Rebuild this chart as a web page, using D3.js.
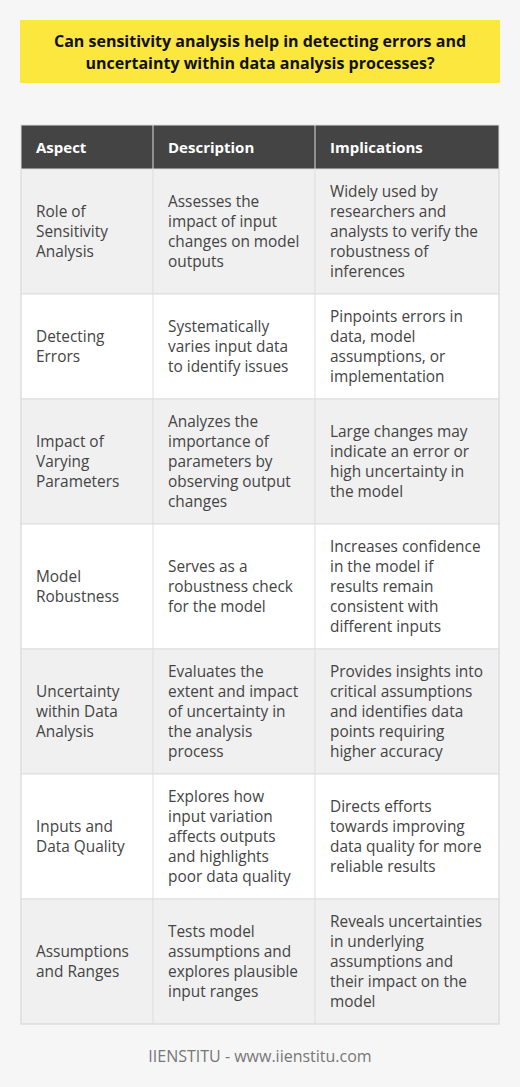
<!DOCTYPE html>
<meta charset="utf-8">
<style>
body { margin: 0; background: #f6f6f6; }
text { font-family: "Open Sans", sans-serif; }
</style>
<svg width="520" height="1087"></svg>
<script src="https://d3js.org/d3.v7.min.js"></script>
<script>
var svg = d3.select("svg");

var title = ["Can sensitivity analysis help in detecting errors and",
             "uncertainty within data analysis processes?"];
var columns = ["Aspect", "Description", "Implications"];

// each cell holds its wrapped lines, as in the picture
var aspects = [
  ["Role of", "Sensitivity", "Analysis"],
  ["Detecting", "Errors"],
  ["Impact of", "Varying", "Parameters"],
  ["Model", "Robustness"],
  ["Uncertainty", "within Data", "Analysis"],
  ["Inputs and", "Data Quality"],
  ["Assumptions", "and Ranges"]
];
var descriptions = [
  ["Assesses the", "impact of input", "changes on model", "outputs"],
  ["Systematically", "varies input data", "to identify issues"],
  ["Analyzes the", "importance of", "parameters by", "observing output", "changes"],
  ["Serves as a", "robustness check", "for the model"],
  ["Evaluates the", "extent and impact", "of uncertainty in", "the analysis", "process"],
  ["Explores how", "input variation", "affects outputs", "and highlights", "poor data quality"],
  ["Tests model", "assumptions and", "explores plausible", "input ranges"]
];
var implications = [
  ["Widely used by", "researchers and", "analysts to verify the", "robustness of", "inferences"],
  ["Pinpoints errors in", "data, model", "assumptions, or", "implementation"],
  ["Large changes may", "indicate an error or", "high uncertainty in", "the model"],
  ["Increases confidence", "in the model if", "results remain", "consistent with", "different inputs"],
  ["Provides insights into", "critical assumptions", "and identifies data", "points requiring", "higher accuracy"],
  ["Directs efforts", "towards improving", "data quality for more", "reliable results"],
  ["Reveals uncertainties", "in underlying", "assumptions and", "their impact on the", "model"]
];
var footer = "IIENSTITU - www.iienstitu.com";

var lineH = 20, tableX = 21, tableW = 478, headTop = 125, headH = 44;
var colX = d3.scaleOrdinal().domain(columns).range([21, 153, 315]);
var colEdges = [21, 153, 315, 499];

// title box
svg.append("rect").attr("x", 20).attr("y", 20).attr("width", 480).attr("height", 63)
  .attr("fill", "#fbe73d");
svg.append("g").selectAll("text").data(title).enter().append("text")
  .attr("x", 260).attr("y", function(d, i) { return 47 + i * 22; })
  .attr("text-anchor", "middle").attr("font-size", 16).attr("font-weight", 700)
  .attr("fill", "#111").text(function(d) { return d; });

// header
svg.append("rect").attr("x", tableX).attr("y", headTop).attr("width", tableW).attr("height", headH)
  .attr("fill", "#444");
svg.append("g").selectAll("text").data(columns).enter().append("text")
  .attr("x", function(d) { return colX(d) + 15; }).attr("y", headTop + 28)
  .attr("font-size", 15).attr("font-weight", 700).attr("fill", "#fff")
  .text(function(d) { return d; });

// rows
var rows = aspects.map(function(a, i) {
  return { cells: [a, descriptions[i], implications[i]] };
});
var y = headTop + headH;
rows.forEach(function(r) {
  var n = d3.max(r.cells, function(c) { return c.length; });
  r.y = y; r.h = n * lineH + 25; y += r.h;
});

var row = svg.append("g").selectAll("g").data(rows).enter().append("g");
row.append("rect").attr("x", tableX).attr("y", function(d) { return d.y; })
  .attr("width", tableW).attr("height", function(d) { return d.h; })
  .attr("fill", function(d, i) { return i % 2 ? "#fff" : "#f0f0f0"; })
  .attr("stroke", "#ddd");

row.each(function(r) {
  var g = d3.select(this);
  r.cells.forEach(function(lines, ci) {
    var top = r.y + r.h / 2 - lines.length * lineH / 2;
    g.selectAll(null).data(lines).enter().append("text")
      .attr("x", colX(columns[ci]) + 15)
      .attr("y", function(d, k) { return top + k * lineH + 15; })
      .attr("font-size", 15.4).attr("fill", "#444")
      .text(function(d) { return d; });
  });
});

// column separators
svg.append("g").selectAll("line").data(colEdges.slice(1, 3)).enter().append("line")
  .attr("x1", function(d) { return d; }).attr("x2", function(d) { return d; })
  .attr("y1", headTop).attr("y2", y).attr("stroke", "#ddd");
svg.append("rect").attr("x", tableX).attr("y", headTop).attr("width", tableW).attr("height", y - headTop)
  .attr("fill", "none").attr("stroke", "#ddd");

svg.append("text").attr("x", 260).attr("y", 1062).attr("text-anchor", "middle")
  .attr("font-size", 16).attr("fill", "#777").text(footer);
</script>
